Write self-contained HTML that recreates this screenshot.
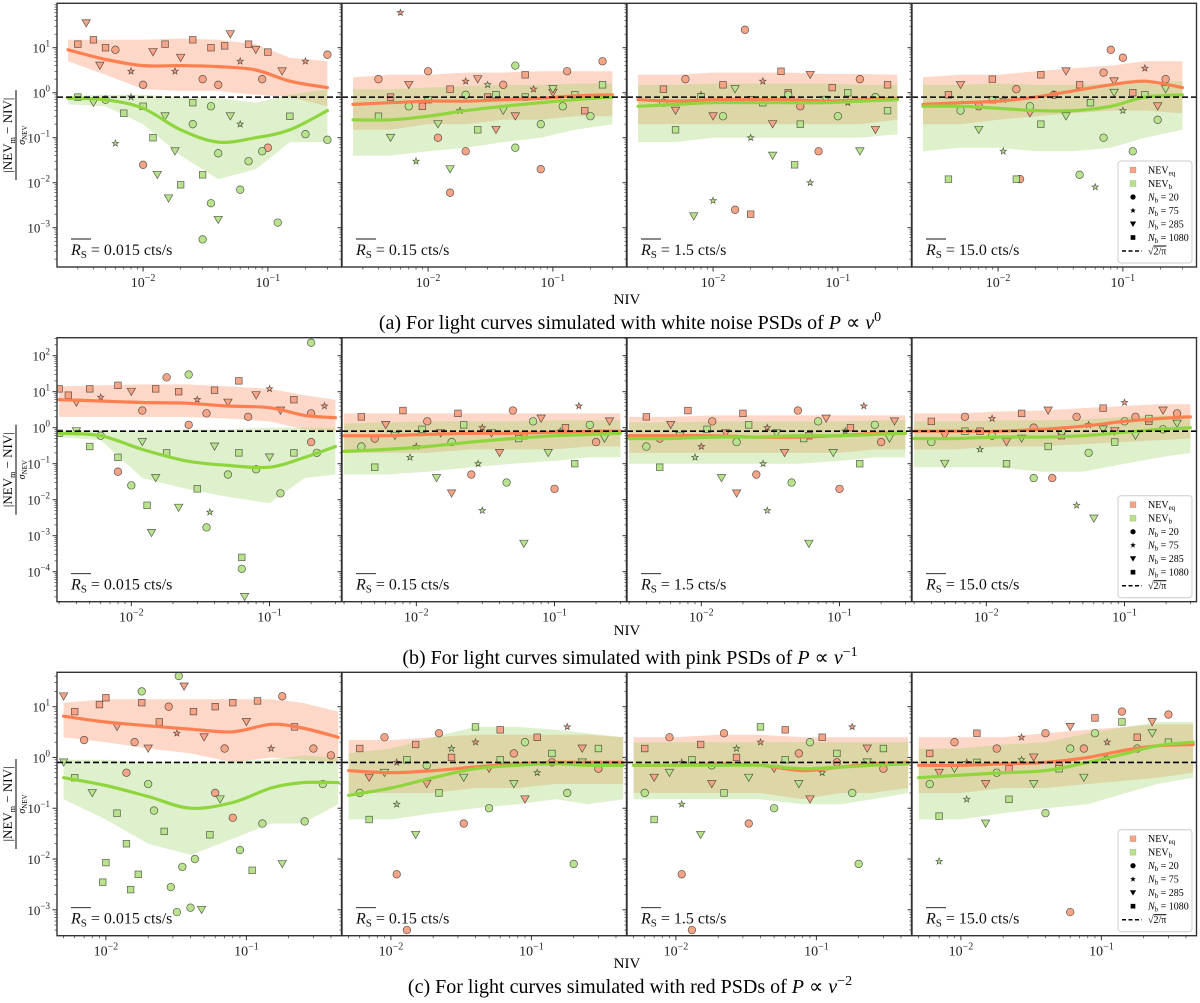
<!DOCTYPE html>
<html><head><meta charset="utf-8"><style>
html,body{margin:0;padding:0;background:#fff}
svg{display:block;font-family:"Liberation Serif",serif}
</style></head><body>
<svg id="fig" width="1200" height="1003" viewBox="0 0 1200 1003" xmlns="http://www.w3.org/2000/svg"></svg>
<script>
// ---------- data ----------
const rateLabels = ["0.015", "0.15", "1.5", "15.0"];
const captions = ["(a) For light curves simulated with white noise PSDs of ", "(b) For light curves simulated with pink PSDs of ", "(c) For light curves simulated with red PSDs of "];
const captionExp = ["0", "\u22121", "\u22122"];
const yTickExpA = [1, 0, -1, -2, -3];
const yTickExpB = [2, 1, 0, -1, -2, -3, -4];
const yTickExpC = [1, 0, -1, -2, -3];
const xTickExp = [-2, -1];
const refLine = Math.sqrt(2 / Math.PI);

const nodesA = [0.0025, 0.005, 0.01, 0.02, 0.04, 0.08, 0.15, 0.3];
const nodesB = [0.003, 0.006, 0.012, 0.025, 0.05, 0.1, 0.18, 0.3];
const nodesC = [0.005, 0.01, 0.02, 0.04, 0.08, 0.15, 0.25, 0.45];

const a1OrMed = [9, 5.5, 4, 4, 3.8, 3.2, 1.8, 1.3];
const a1OrLo = [5, 2.5, 1.2, 1.1, 1.1, 0.9, 0.8, 0.5];
const a1OrHi = [15, 15, 15, 16, 15, 12, 6, 5];
const a1GrMed = [0.75, 0.7, 0.45, 0.15, 0.08, 0.1, 0.15, 0.4];
const a1GrLo = [0.55, 0.5, 0.2, 0.04, 0.012, 0.02, 0.08, 0.08];
const a1GrHi = [0.85, 0.9, 0.9, 0.8, 0.75, 0.6, 0.9, 1.2];
const a2OrMed = [0.55, 0.6, 0.65, 0.65, 0.7, 0.75, 0.85, 0.9];
const a2OrLo = [0.15, 0.15, 0.2, 0.2, 0.25, 0.25, 0.3, 0.3];
const a2OrHi = [2.2, 2.5, 2.5, 2.8, 2.8, 3, 3, 3];
const a2GrMed = [0.25, 0.25, 0.3, 0.4, 0.5, 0.6, 0.7, 0.8];
const a2GrLo = [0.04, 0.04, 0.05, 0.06, 0.08, 0.1, 0.15, 0.2];
const a2GrHi = [1.2, 1.2, 1.3, 1.4, 1.5, 1.5, 1.6, 1.6];
const a3OrMed = [0.7, 0.65, 0.7, 0.7, 0.7, 0.65, 0.7, 0.75];
const a3OrLo = [0.2, 0.2, 0.2, 0.2, 0.2, 0.2, 0.2, 0.25];
const a3OrHi = [2.5, 2.5, 2.8, 2.8, 2.8, 2.6, 2.6, 2.5];
const a3GrMed = [0.5, 0.55, 0.6, 0.6, 0.6, 0.6, 0.65, 0.7];
const a3GrLo = [0.08, 0.08, 0.1, 0.1, 0.1, 0.1, 0.1, 0.12];
const a3GrHi = [1.5, 1.5, 1.6, 1.6, 1.6, 1.6, 1.5, 1.5];
const a4OrMed = [0.55, 0.6, 0.65, 0.8, 1.1, 1.5, 1.8, 1.3];
const a4OrLo = [0.2, 0.2, 0.25, 0.3, 0.35, 0.4, 0.4, 0.35];
const a4OrHi = [2.2, 2.5, 2.5, 3, 3.5, 4, 5, 5];
const a4GrMed = [0.5, 0.5, 0.45, 0.4, 0.4, 0.5, 0.8, 0.9];
const a4GrLo = [0.05, 0.06, 0.06, 0.05, 0.05, 0.06, 0.1, 0.15];
const a4GrHi = [1.5, 1.5, 1.6, 1.5, 1.5, 1.6, 1.8, 1.8];

const b1OrMed = [6, 5.5, 5, 4.8, 4, 3.6, 2.2, 1.9];
const b1OrLo = [2, 2, 2, 2, 1.8, 1.5, 0.9, 0.8];
const b1OrHi = [14, 15, 16, 16, 14, 12, 8, 6];
const b1GrMed = [0.7, 0.6, 0.25, 0.12, 0.09, 0.08, 0.15, 0.3];
const b1GrLo = [0.55, 0.45, 0.04, 0.02, 0.012, 0.008, 0.04, 0.05];
const b1GrHi = [0.85, 0.85, 0.8, 0.9, 0.9, 1, 1, 1];
const b2OrMed = [0.6, 0.6, 0.65, 0.7, 0.7, 0.75, 0.8, 0.8];
const b2OrLo = [0.2, 0.2, 0.2, 0.25, 0.25, 0.25, 0.3, 0.3];
const b2OrHi = [2.5, 2.5, 2.5, 2.5, 2.5, 2.5, 2.5, 2.5];
const b2GrMed = [0.22, 0.25, 0.3, 0.4, 0.5, 0.6, 0.65, 0.7];
const b2GrLo = [0.05, 0.05, 0.06, 0.08, 0.1, 0.12, 0.15, 0.15];
const b2GrHi = [1.3, 1.4, 1.5, 1.5, 1.5, 1.6, 1.6, 1.6];
const b3OrMed = [0.6, 0.6, 0.6, 0.55, 0.55, 0.6, 0.7, 0.7];
const b3OrLo = [0.2, 0.2, 0.2, 0.2, 0.2, 0.2, 0.25, 0.25];
const b3OrHi = [2, 2, 2.2, 2.2, 2.2, 2.2, 2.2, 2.2];
const b3GrMed = [0.5, 0.5, 0.55, 0.55, 0.6, 0.6, 0.65, 0.7];
const b3GrLo = [0.1, 0.1, 0.1, 0.1, 0.1, 0.12, 0.15, 0.15];
const b3GrHi = [1.4, 1.4, 1.5, 1.5, 1.5, 1.5, 1.6, 1.6];
const b4OrMed = [0.8, 0.8, 0.8, 0.9, 1.1, 1.5, 1.8, 2];
const b4OrLo = [0.25, 0.25, 0.3, 0.3, 0.35, 0.4, 0.45, 0.5];
const b4OrHi = [2.5, 2.5, 2.8, 3, 3.5, 4, 4.5, 4.5];
const b4GrMed = [0.5, 0.5, 0.55, 0.55, 0.6, 0.75, 0.9, 1];
const b4GrLo = [0.08, 0.08, 0.08, 0.06, 0.06, 0.1, 0.15, 0.2];
const b4GrHi = [1.5, 1.5, 1.6, 1.6, 1.7, 2, 2.2, 2.2];

const c1OrMed = [6.5, 5, 4.2, 3.6, 3.2, 4.5, 3.8, 2.5];
const c1OrLo = [2.5, 2, 1.5, 1.2, 0.8, 1, 0.9, 0.8];
const c1OrHi = [12, 14, 14, 14, 14, 14, 12, 8];
const c1GrMed = [0.4, 0.28, 0.17, 0.1, 0.13, 0.25, 0.32, 0.32];
const c1GrLo = [0.15, 0.06, 0.02, 0.012, 0.025, 0.05, 0.05, 0.12];
const c1GrHi = [0.9, 0.9, 0.8, 0.8, 0.85, 0.9, 1.1, 1];
const c2OrMed = [0.55, 0.5, 0.55, 0.65, 0.75, 0.8, 0.8, 0.8];
const c2OrLo = [0.2, 0.2, 0.2, 0.25, 0.25, 0.3, 0.3, 0.3];
const c2OrHi = [2.2, 2.2, 2.5, 2.8, 2.8, 2.8, 2.8, 2.5];
const c2GrMed = [0.18, 0.25, 0.4, 0.6, 0.7, 0.75, 0.7, 0.7];
const c2GrLo = [0.06, 0.06, 0.08, 0.1, 0.12, 0.15, 0.12, 0.15];
const c2GrHi = [1.2, 1.5, 2.5, 4, 4, 3.5, 3, 2.5];
const c3OrMed = [0.7, 0.7, 0.75, 0.7, 0.55, 0.65, 0.75, 0.8];
const c3OrLo = [0.2, 0.2, 0.2, 0.2, 0.15, 0.2, 0.2, 0.25];
const c3OrHi = [2.5, 2.5, 2.8, 2.8, 2.5, 2.5, 2.5, 2.5];
const c3GrMed = [0.7, 0.7, 0.7, 0.7, 0.6, 0.65, 0.7, 0.75];
const c3GrLo = [0.15, 0.15, 0.15, 0.15, 0.12, 0.12, 0.15, 0.2];
const c3GrHi = [2, 2, 2, 2, 2, 2, 2, 2];
const c4OrMed = [0.7, 0.7, 0.75, 0.8, 1, 1.4, 1.7, 1.8];
const c4OrLo = [0.2, 0.2, 0.25, 0.25, 0.3, 0.35, 0.4, 0.5];
const c4OrHi = [2.5, 2.5, 2.5, 3, 3.5, 4, 4.5, 4.5];
const c4GrMed = [0.4, 0.45, 0.5, 0.55, 0.8, 1.2, 1.7, 2];
const c4GrLo = [0.06, 0.06, 0.08, 0.1, 0.12, 0.2, 0.3, 0.4];
const c4GrHi = [1.5, 1.5, 1.8, 2, 3, 4, 5, 5];

const ptsA1 = [[0.003,12,0,3],[0.0035,35,0,2],[0.004,15,0,3],[0.005,10,0,3],[0.006,9,0,0],[0.008,3,0,1],[0.01,1.5,0,0],[0.012,8,0,2],[0.015,12,0,3],[0.02,6,0,2],[0.025,15,0,3],[0.03,2,0,0],[0.035,10,0,3],[0.04,1.5,0,0],[0.05,20,0,2],[0.06,5,0,1],[0.07,12,0,3],[0.09,2,0,0],[0.1,8,0,3],[0.13,3,0,2],[0.2,5,0,1],[0.3,7,0,0],[0.01,0.025,0,0],[0.1,0.06,0,0],[0.0045,4,0,2],[0.018,3,0,1],[0.045,11,0,3],[0.08,9,0,2],
[0.003,0.8,1,3],[0.004,0.6,1,2],[0.005,0.7,1,0],[0.007,0.35,1,3],[0.008,0.8,1,1],[0.01,0.5,1,3],[0.012,0.1,1,3],[0.015,0.3,1,2],[0.018,0.05,1,2],[0.02,0.009,1,3],[0.025,0.2,1,0],[0.03,0.015,1,3],[0.035,0.0035,1,0],[0.04,0.0015,1,2],[0.04,0.045,1,0],[0.05,0.3,1,2],[0.06,0.007,1,0],[0.07,0.03,1,0],[0.09,0.05,1,0],[0.12,0.0013,1,0],[0.15,0.3,1,3],[0.2,0.12,1,0],[0.3,0.09,1,0],[0.03,0.00055,1,0],[0.013,0.015,1,2],[0.035,0.5,1,0],[0.006,0.075,1,1],[0.016,0.0045,1,2],[0.025,0.6,1,3],[0.06,0.2,1,1]];
const ptsMidA = [[0.004,2,0,0],[0.005,0.8,0,3],[0.006,60,0,1],[0.007,1.5,0,2],[0.009,0.5,0,3],[0.01,3,0,0],[0.012,0.1,0,0],[0.015,1.2,0,3],[0.02,0.05,0,0],[0.025,2,0,2],[0.03,0.8,0,3],[0.04,1.5,0,0],[0.05,0.3,0,2],[0.06,2.5,0,3],[0.08,0.02,0,0],[0.1,1,0,2],[0.13,3,0,0],[0.18,0.4,0,3],[0.25,5,0,0],[0.015,0.006,0,0],[0.02,1.8,0,1],[0.035,0.15,0,2],[0.07,1.2,0,1],
[0.004,0.3,1,3],[0.005,0.1,1,2],[0.007,0.5,1,0],[0.008,0.03,1,1],[0.01,0.7,1,3],[0.012,0.2,1,2],[0.015,0.02,1,2],[0.02,0.9,1,0],[0.025,0.15,1,3],[0.03,1.5,1,1],[0.04,0.4,1,2],[0.05,0.06,1,0],[0.06,0.8,1,3],[0.08,0.2,1,0],[0.1,1.2,1,2],[0.12,0.5,1,0],[0.15,0.9,1,3],[0.2,0.3,1,0],[0.25,1.5,1,3],[0.05,4,1,0],[0.018,0.4,1,1],[0.035,0.9,1,3]];
const ptsA3 = [[0.004,1.2,0,3],[0.005,0.4,0,2],[0.006,2,0,0],[0.008,0.9,0,1],[0.01,0.3,0,2],[0.012,1.5,0,3],[0.015,0.0025,0,0],[0.018,25,0,0],[0.02,0.7,0,3],[0.025,1.8,0,1],[0.03,0.2,0,2],[0.04,1,0,3],[0.05,0.5,0,0],[0.06,2.5,0,2],[0.07,0.05,0,0],[0.09,1.3,0,3],[0.12,0.6,0,1],[0.15,2,0,0],[0.2,0.15,0,2],[0.25,1.5,0,3],[0.02,0.002,0,3],[0.035,3,0,3],
[0.004,0.6,1,0],[0.005,0.15,1,3],[0.007,0.0018,1,2],[0.008,0.8,1,3],[0.01,0.004,1,1],[0.012,0.3,1,0],[0.015,1.2,1,2],[0.02,0.1,1,1],[0.025,0.6,1,3],[0.03,0.04,1,2],[0.04,0.9,1,0],[0.05,0.2,1,3],[0.06,0.01,1,1],[0.08,0.7,1,2],[0.1,0.3,1,0],[0.12,1,1,3],[0.15,0.05,1,2],[0.2,0.8,1,0],[0.25,0.4,1,3],[0.045,0.025,1,3]];
const ptsA4 = [[0.004,0.9,0,3],[0.005,1.5,0,2],[0.007,0.5,0,0],[0.009,2,0,3],[0.011,0.7,0,1],[0.014,1.2,0,0],[0.018,0.35,0,2],[0.022,2.5,0,3],[0.028,0.9,0,0],[0.035,3,0,2],[0.045,1.5,0,3],[0.055,0.6,0,1],[0.07,2.8,0,0],[0.085,1.8,0,2],[0.1,6,0,0],[0.12,1,0,3],[0.15,3.5,0,1],[0.19,0.5,0,2],[0.22,2,0,0],[0.08,9,0,0],[0.015,0.012,0,0],
[0.004,0.012,1,3],[0.005,0.4,1,0],[0.007,0.15,1,2],[0.009,0.7,1,3],[0.011,0.05,1,1],[0.014,0.012,1,3],[0.018,0.5,1,0],[0.022,0.2,1,3],[0.028,0.9,1,1],[0.035,0.3,1,2],[0.045,0.015,1,0],[0.055,0.6,1,3],[0.07,0.1,1,0],[0.085,1,1,2],[0.1,0.4,1,1],[0.12,0.05,1,0],[0.15,0.9,1,3],[0.19,0.25,1,0],[0.22,1.2,1,2],[0.06,0.008,1,1]];
const ptsB1 = [[0.003,12,0,3],[0.0035,8,0,3],[0.004,5,0,2],[0.005,12,0,3],[0.006,7,0,1],[0.008,15,0,3],[0.01,10,0,2],[0.012,3,0,0],[0.015,12,0,3],[0.018,25,0,0],[0.022,10,0,3],[0.026,1.2,0,0],[0.03,6,0,1],[0.035,2.5,0,0],[0.04,11,0,3],[0.05,5,0,2],[0.06,20,0,3],[0.07,2,0,0],[0.08,8,0,2],[0.1,12,0,1],[0.12,3,0,2],[0.15,6,0,3],[0.2,2.5,0,0],[0.25,4,0,1],[0.008,0.06,0,0],[0.2,0.4,0,0],
[0.003,0.7,1,3],[0.004,0.8,1,2],[0.005,0.3,1,3],[0.006,0.6,1,0],[0.008,0.15,1,3],[0.01,0.025,1,0],[0.012,0.4,1,2],[0.013,0.007,1,3],[0.014,0.0012,1,2],[0.015,0.04,1,2],[0.018,0.2,1,3],[0.022,0.006,1,2],[0.026,30,1,0],[0.03,0.02,1,3],[0.035,0.0017,1,0],[0.04,0.3,1,2],[0.05,0.05,1,0],[0.06,0.2,1,3],[0.063,0.00025,1,3],[0.063,0.00012,1,0],[0.066,0.00002,1,2],[0.08,0.07,1,0],[0.1,0.15,1,2],[0.12,0.015,1,0],[0.15,0.2,1,3],[0.2,230,1,0],[0.22,0.2,1,0],[0.037,0.0045,1,1]];
const ptsMidB = [[0.004,2,0,3],[0.005,0.5,0,0],[0.006,1.2,0,2],[0.008,3,0,3],[0.01,0.3,0,1],[0.012,1.5,0,0],[0.015,0.7,0,2],[0.02,2.5,0,3],[0.025,0.05,0,0],[0.03,1,0,1],[0.04,0.2,0,2],[0.05,3,0,0],[0.06,0.6,0,3],[0.08,1.8,0,2],[0.1,0.02,0,0],[0.12,1,0,3],[0.15,4,0,1],[0.2,0.4,0,0],[0.25,1.5,0,2],[0.018,0.015,0,2],
[0.004,0.3,1,0],[0.005,0.08,1,3],[0.007,0.6,1,2],[0.009,0.15,1,1],[0.011,0.9,1,3],[0.014,0.04,1,2],[0.018,0.4,1,0],[0.022,1.2,1,3],[0.028,0.1,1,1],[0.035,0.7,1,2],[0.045,0.03,1,0],[0.055,0.5,1,3],[0.07,1.5,1,0],[0.09,0.2,1,2],[0.11,0.8,1,1],[0.14,0.1,1,3],[0.18,1.2,1,0],[0.23,0.5,1,2],[0.03,0.005,1,1],[0.06,0.0006,1,2]];
const ptsB4 = [[0.004,1.5,0,3],[0.005,0.6,0,2],[0.007,2,0,0],[0.009,0.8,0,3],[0.011,1.8,0,1],[0.014,0.4,0,2],[0.018,2.5,0,3],[0.022,1,0,0],[0.028,3,0,2],[0.035,0.6,0,3],[0.045,2,0,0],[0.055,1.2,0,1],[0.07,3.5,0,3],[0.085,0.8,0,2],[0.1,5,0,1],[0.12,2,0,0],[0.15,1.5,0,3],[0.19,3,0,2],[0.24,2.5,0,0],[0.03,0.04,0,0],
[0.004,0.4,1,0],[0.005,0.1,1,2],[0.007,0.8,1,3],[0.009,0.25,1,1],[0.011,0.6,1,0],[0.014,0.1,1,3],[0.018,0.5,1,2],[0.022,0.04,1,0],[0.028,0.3,1,3],[0.035,0.8,1,0],[0.045,0.007,1,1],[0.055,0.2,1,0],[0.07,0.9,1,2],[0.085,0.4,1,3],[0.1,1.5,1,0],[0.12,0.6,1,2],[0.15,1.8,1,3],[0.19,0.9,1,0],[0.24,1.3,1,2],[0.06,0.003,1,2]];
const ptsC1 = [[0.005,16,0,2],[0.006,8,0,3],[0.007,2.2,0,0],[0.009,11,0,3],[0.01,15,0,3],[0.012,4,0,2],[0.014,0.5,0,0],[0.016,2,0,0],[0.018,12,0,3],[0.02,1.5,0,2],[0.024,5,0,3],[0.028,10,0,0],[0.032,3,0,1],[0.036,25,0,2],[0.042,8,0,3],[0.05,2.5,0,2],[0.06,10,0,3],[0.07,1.5,0,0],[0.08,12,0,3],[0.1,5,0,2],[0.12,13,0,3],[0.15,1.5,0,1],[0.18,16,0,0],[0.22,4,0,3],[0.3,1.5,0,0],[0.4,1.1,0,0],[0.06,0.2,0,0],[0.08,0.065,0,0],
[0.005,0.8,1,2],[0.006,0.4,1,3],[0.008,0.2,1,2],[0.0095,0.0035,1,3],[0.01,0.0085,1,3],[0.012,0.08,1,3],[0.014,0.02,1,3],[0.015,0.0025,1,3],[0.017,0.005,1,3],[0.02,0.3,1,0],[0.022,0.09,1,0],[0.026,0.035,1,3],[0.029,0.0028,1,0],[0.032,0.0009,1,0],[0.033,40,1,0],[0.035,0.007,1,0],[0.04,0.0011,1,0],[0.043,0.01,1,0],[0.048,0.001,1,2],[0.055,0.03,1,3],[0.065,0.15,1,2],[0.09,0.015,1,0],[0.11,0.006,1,3],[0.13,0.05,1,0],[0.18,0.008,1,2],[0.26,0.055,1,0],[0.35,0.3,1,0],[0.018,20,1,0]];
const ptsMidC = [[0.006,1.5,0,3],[0.007,0.4,0,2],[0.009,2.5,0,0],[0.011,0.8,0,1],[0.013,0.0004,0,0],[0.015,1.8,0,3],[0.018,0.3,0,2],[0.022,3,0,0],[0.027,1,0,3],[0.033,0.05,0,0],[0.04,2,0,1],[0.05,0.6,0,2],[0.06,3.5,0,3],[0.075,1.2,0,0],[0.09,0.15,0,2],[0.11,2.5,0,3],[0.14,0.8,0,0],[0.18,4,0,1],[0.23,1.5,0,2],[0.3,0.6,0,0],[0.011,0.005,0,0],
[0.006,0.2,1,0],[0.007,0.06,1,3],[0.009,0.5,1,2],[0.011,0.12,1,1],[0.013,0.9,1,3],[0.015,0.03,1,2],[0.018,0.7,1,0],[0.022,0.2,1,3],[0.027,1.5,1,1],[0.033,0.4,1,2],[0.04,4,1,3],[0.05,0.1,1,0],[0.06,0.9,1,3],[0.075,0.3,1,2],[0.09,2,1,0],[0.11,0.5,1,1],[0.14,1.2,1,3],[0.18,0.2,1,0],[0.23,0.8,1,2],[0.3,1.5,1,3],[0.2,0.008,1,0]];
const ptsC4 = [[0.006,1.2,0,3],[0.007,0.5,0,2],[0.009,2,0,0],[0.011,0.8,0,1],[0.013,3,0,3],[0.015,0.3,0,2],[0.018,1.5,0,0],[0.022,0.6,0,3],[0.027,2.5,0,1],[0.033,1,0,2],[0.04,3,0,0],[0.05,0.7,0,3],[0.06,4,0,2],[0.075,1.5,0,0],[0.09,6,0,3],[0.11,2,0,1],[0.14,8,0,0],[0.18,2.5,0,3],[0.23,5,0,2],[0.3,7,0,0],[0.06,0.0009,0,0],
[0.006,0.3,1,0],[0.007,0.07,1,3],[0.009,0.6,1,2],[0.011,0.15,1,1],[0.013,0.8,1,3],[0.015,0.05,1,2],[0.018,0.5,1,0],[0.022,0.15,1,3],[0.027,0.9,1,1],[0.033,0.3,1,2],[0.04,0.08,1,0],[0.05,0.6,1,3],[0.06,1.5,1,0],[0.075,0.4,1,2],[0.09,3,1,0],[0.11,1,1,1],[0.14,5,1,3],[0.18,1.5,1,0],[0.23,3,1,2],[0.3,2,1,3],[0.007,0.009,1,1]];

// ---------- drawing ----------
const NS = "http://www.w3.org/2000/svg";
const svg = document.getElementById("fig");
function mk(tag, attrs, parent) {
  const e = document.createElementNS(NS, tag);
  for (const k in attrs) e.setAttribute(k, attrs[k]);
  (parent || svg).appendChild(e);
  return e;
}
const panelLefts = [57, 342, 627, 912];
const panelW = 284.5;
const rows = [
  {top: 3.3, bottom: 267, ylog: [-3.873, 1.987], xlog: [-2.69, -0.41], nodes: nodesA, yTicks: yTickExpA, nivY: 304, capY: 329,
   panels: [[a1OrMed,a1OrLo,a1OrHi,a1GrMed,a1GrLo,a1GrHi,ptsA1],[a2OrMed,a2OrLo,a2OrHi,a2GrMed,a2GrLo,a2GrHi,ptsMidA],[a3OrMed,a3OrLo,a3OrHi,a3GrMed,a3GrLo,a3GrHi,ptsA3],[a4OrMed,a4OrLo,a4OrHi,a4GrMed,a4GrLo,a4GrHi,ptsA4]]},
  {top: 337.7, bottom: 601.7, ylog: [-4.833, 2.5], xlog: [-2.538, -0.479], nodes: nodesB, yTicks: yTickExpB, nivY: 635, capY: 664,
   panels: [[b1OrMed,b1OrLo,b1OrHi,b1GrMed,b1GrLo,b1GrHi,ptsB1],[b2OrMed,b2OrLo,b2OrHi,b2GrMed,b2GrLo,b2GrHi,ptsMidB],[b3OrMed,b3OrLo,b3OrHi,b3GrMed,b3GrLo,b3GrHi,ptsMidB],[b4OrMed,b4OrLo,b4OrHi,b4GrMed,b4GrLo,b4GrHi,ptsB4]]},
  {top: 672.3, bottom: 935.7, ylog: [-3.51, 1.677], xlog: [-2.348, -0.323], nodes: nodesC, yTicks: yTickExpC, nivY: 968, capY: 993,
   panels: [[c1OrMed,c1OrLo,c1OrHi,c1GrMed,c1GrLo,c1GrHi,ptsC1],[c2OrMed,c2OrLo,c2OrHi,c2GrMed,c2GrLo,c2GrHi,ptsMidC],[c3OrMed,c3OrLo,c3OrHi,c3GrMed,c3GrLo,c3GrHi,ptsMidC],[c4OrMed,c4OrLo,c4OrHi,c4GrMed,c4GrLo,c4GrHi,ptsC4]]}
];
const OR = "#ff7f50", GR = "#8fd63e";
const ORF = "rgba(250,150,110,0.38)", GRF = "rgba(160,215,110,0.35)";
const MF = ["#f5a587", "#b9e28e"];

function marker(g, type, x, y, fill, s) {
  s = s || 1; let e;
  if (type === 0) e = mk("circle", {cx: x, cy: y, r: 3.8*s}, g);
  else if (type === 1) {
    let p = [];
    for (let i = 0; i < 10; i++) { const r = (i % 2 ? 1.4 : 3.4)*s, a = -Math.PI/2 + i*Math.PI/5; p.push((x + r*Math.cos(a)).toFixed(1) + "," + (y + r*Math.sin(a)).toFixed(1)); }
    e = mk("polygon", {points: p.join(" ")}, g);
  } else if (type === 2) e = mk("polygon", {points: `${x-4.2*s},${y-3.5*s} ${x+4.2*s},${y-3.5*s} ${x},${y+3.8*s}`}, g);
  else e = mk("rect", {x: x-3.3*s, y: y-3.3*s, width: 6.6*s, height: 6.6*s}, g);
  e.setAttribute("fill", fill);
  e.setAttribute("stroke", "rgba(0,0,0,0.6)");
  e.setAttribute("stroke-width", "0.7");
  return e;
}

rows.forEach((row, ri) => {
  const H = row.bottom - row.top;
  const yS = v => row.bottom - (Math.log10(v) - row.ylog[0]) / (row.ylog[1] - row.ylog[0]) * H;
  row.panels.forEach((pd, pi) => {
    const L = panelLefts[pi];
    const xS = v => L + (Math.log10(v) - row.xlog[0]) / (row.xlog[1] - row.xlog[0]) * panelW;
    const g = mk("g", {});
    
    
    const clipId = "clip" + ri + pi;
    const cp = mk("clipPath", {id: clipId}, g);
    mk("rect", {x: L, y: row.top, width: panelW, height: H}, cp);
    const inner = mk("g", {"clip-path": `url(#${clipId})`}, g);
    const n = row.nodes;
    function band(lo, hi, fill, name) {
      let d = "M" + n.map((v, i) => xS(v).toFixed(1) + "," + yS(hi[i]).toFixed(1)).join(" L");
      d += " L" + n.slice().reverse().map((v, j) => { const i = n.length - 1 - j; return xS(v).toFixed(1) + "," + yS(lo[i]).toFixed(1); }).join(" L") + " Z";
      const p = mk("path", {d: d, fill: fill}, inner);
      
      
    }
    band(pd[1], pd[2], ORF, "nev-eq-band");
    band(pd[4], pd[5], GRF, "nev-b-band");
    const pg = mk("g", {}, inner);
    
    
    pd[6].forEach(p => {
      const m = marker(pg, p[3], xS(p[0]), yS(p[1]), MF[p[2]]);
      
      
    });
    function line(med, col, name) {
      const pts = n.map((v, i) => [xS(v), yS(med[i])]);
      let d = "M" + pts[0][0].toFixed(1) + "," + pts[0][1].toFixed(1);
      for (let i = 1; i < pts.length; i++) {
        const p0 = pts[Math.max(i-2,0)], p1 = pts[i-1], p2 = pts[i], p3 = pts[Math.min(i+1, pts.length-1)];
        const c1 = [p1[0] + (p2[0]-p0[0])/6, p1[1] + (p2[1]-p0[1])/6], c2 = [p2[0] - (p3[0]-p1[0])/6, p2[1] - (p3[1]-p1[1])/6];
        d += ` C${c1[0].toFixed(1)},${c1[1].toFixed(1)} ${c2[0].toFixed(1)},${c2[1].toFixed(1)} ${p2[0].toFixed(1)},${p2[1].toFixed(1)}`;
      }
      const e = mk("path", {d: d, fill: "none", stroke: col, "stroke-width": 3.2, "stroke-linecap": "round"}, inner);
      
      
    }
    line(pd[0], OR, "nev-eq-median");
    line(pd[3], GR, "nev-b-median");
    const rl = mk("line", {x1: L, x2: L + panelW, y1: yS(refLine), y2: yS(refLine), stroke: "#000", "stroke-width": 1.6, "stroke-dasharray": "6,3"}, inner);
    
    
    const fr = mk("rect", {x: L, y: row.top, width: panelW, height: H, fill: "none", stroke: "#333", "stroke-width": 1.4}, g);
    
    
    for (let e = Math.ceil(row.ylog[0]); e <= Math.floor(row.ylog[1]); e++) {
      const y = yS(Math.pow(10, e));
      mk("line", {x1: L - 4.5, x2: L, y1: y, y2: y, stroke: "#333", "stroke-width": 1}, g);
      for (let k = 2; k < 10; k++) {
        const v = Math.log10(k) + e;
        if (v < row.ylog[1]) { const yy = yS(Math.pow(10, v)); mk("line", {x1: L - 2.5, x2: L, y1: yy, y2: yy, stroke: "#333", "stroke-width": 0.7}, g); }
      }
    }
    for (let e = Math.floor(row.ylog[0]) ; e < Math.ceil(row.ylog[0]); e++) {
      for (let k = 2; k < 10; k++) { const v = Math.log10(k) + e; if (v > row.ylog[0]) { const yy = yS(Math.pow(10, v)); mk("line", {x1: L - 2.5, x2: L, y1: yy, y2: yy, stroke: "#333", "stroke-width": 0.7}, g); } }
    }
    if (pi === 0) {
      row.yTicks.forEach(e => {
        const t = mk("text", {x: L - 7, y: yS(Math.pow(10, e)) + 5, "text-anchor": "end", "font-size": 13, fill: "#222"}, g);
        
        
        t.innerHTML = `10<tspan font-size="9" dy="-6">${e < 0 ? "\u2212" + (-e) : e}</tspan>`;
      });
    }
    for (let e = -3; e <= 0; e++) {
      for (let k = 1; k < 10; k++) {
        const v = Math.log10(k) + e;
        if (v < row.xlog[0] || v > row.xlog[1]) continue;
        const x = xS(Math.pow(10, v));
        mk("line", {x1: x, x2: x, y1: row.bottom, y2: row.bottom + (k === 1 ? 4.5 : 2.5), stroke: "#333", "stroke-width": k === 1 ? 1 : 0.7}, g);
      }
    }
    xTickExp.forEach(e => {
      const t = mk("text", {x: xS(Math.pow(10, e)), y: row.bottom + 20, "text-anchor": "middle", "font-size": 14, fill: "#222"}, g);
      
      
      t.innerHTML = `10<tspan font-size="10" dy="-6">\u2212${-e}</tspan>`;
    });
    const rt = mk("text", {x: L + 14, y: row.bottom - 12, "font-size": 16, fill: "#111"}, g);
    
    
    rt.innerHTML = `<tspan font-style="italic">R</tspan><tspan font-size="11" dy="3">S</tspan><tspan dy="-3"> = ${rateLabels[pi]} cts/s</tspan>`;
    mk("line", {x1: L + 14, x2: L + 34, y1: row.bottom - 28, y2: row.bottom - 28, stroke: "#111", "stroke-width": 0.9}, g);
  });
  const mid = (row.top + row.bottom) / 2;
  const yl = mk("g", {transform: `translate(15,${mid}) rotate(-90)`});
  
  
  const num = mk("text", {x: 0, y: -3, "text-anchor": "middle", "font-size": 13}, yl);
  num.innerHTML = `|NEV<tspan font-size="8" dy="3">m</tspan><tspan dy="-3"> \u2212 NIV|</tspan>`;
  mk("line", {x1: -45, x2: 45, y1: 1, y2: 1, stroke: "#000", "stroke-width": 1}, yl);
  const den = mk("text", {x: 0, y: 10, "text-anchor": "middle", "font-size": 10, "font-style": "italic"}, yl);
  den.innerHTML = `\u03c3<tspan font-size="7" font-style="normal" dy="2">NEV</tspan>`;
  const nl = mk("text", {x: 627, y: row.nivY, "text-anchor": "middle", "font-size": 15});
  
  
  nl.textContent = "NIV";
  const cap = mk("text", {x: 630, y: row.capY, "text-anchor": "middle", "font-size": 20});
  
  
  cap.innerHTML = captions[ri] + `<tspan font-style="italic">P</tspan> \u221d <tspan font-style="italic">\u03bd</tspan><tspan font-size="14" dy="-8">${captionExp[ri]}</tspan>`;
  const lg = mk("g", {});
  
  
  const lx = 1118, ly = row.bottom - 106;
  mk("rect", {x: lx, y: ly, width: 74, height: 102, rx: 3, fill: "rgba(255,255,255,0.85)", stroke: "#ccc", "stroke-width": 1}, lg);
  const entries = [
    ["sq", MF[0], `NEV<tspan font-size="7" dy="2">eq</tspan>`],
    ["sq", MF[1], `NEV<tspan font-size="7" dy="2">b</tspan>`],
    [0, "#000", `<tspan font-style="italic">N</tspan><tspan font-size="7" dy="2">b</tspan><tspan dy="-2"> = 20</tspan>`],
    [1, "#000", `<tspan font-style="italic">N</tspan><tspan font-size="7" dy="2">b</tspan><tspan dy="-2"> = 75</tspan>`],
    [2, "#000", `<tspan font-style="italic">N</tspan><tspan font-size="7" dy="2">b</tspan><tspan dy="-2"> = 285</tspan>`],
    [3, "#000", `<tspan font-style="italic">N</tspan><tspan font-size="7" dy="2">b</tspan><tspan dy="-2"> = 1080</tspan>`],
    ["dash", "#000", `\u221a<tspan text-decoration="overline">2/\u03c0</tspan>`]
  ];
  entries.forEach((en, i) => {
    const ey = ly + 9 + i * 13.5;
    const eg = mk("g", {}, lg);
    
    
    if (en[0] === "sq") mk("rect", {x: lx + 12, y: ey - 3, width: 6, height: 6, fill: en[1], stroke: "rgba(0,0,0,0.2)", "stroke-width": 0.5}, eg);
    else if (en[0] === "dash") mk("line", {x1: lx + 4, x2: lx + 24, y1: ey, y2: ey, stroke: "#000", "stroke-width": 1.5, "stroke-dasharray": "4,2.5"}, eg);
    else { const m = marker(eg, en[0], lx + 15, ey, "#000", 0.6); m.setAttribute("stroke", "#000"); }
    const t = mk("text", {x: lx + 30, y: ey + 3.5, "font-size": 10}, eg);
    t.innerHTML = en[2];
  });
});
</script>
</body></html>
